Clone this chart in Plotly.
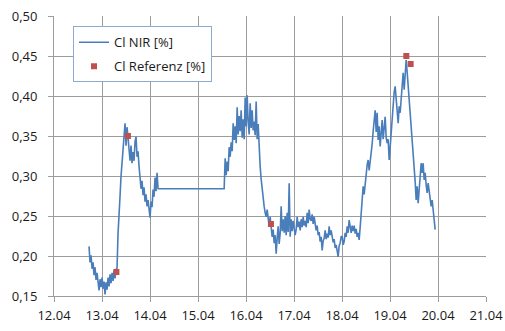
import plotly.graph_objects as go

# ---- data -------------------------------------------------------------
# NIR measurement, sampled every 30 min (1/48 day); x = day of April
SAMPLE_STEP = 1.0 / 48.0
NIR_A_START = 12.73
NIR_A_VALUES = [
    0.212, 0.192, 0.201, 0.184, 0.192, 0.176, 0.186, 0.170, 0.179, 0.163,
    0.157, 0.171, 0.161, 0.173, 0.159, 0.168, 0.152, 0.167, 0.158, 0.173,
    0.162, 0.177, 0.166, 0.179, 0.169, 0.182, 0.172, 0.183, 0.185, 0.228,
    0.262, 0.275, 0.300, 0.318, 0.330, 0.352, 0.366, 0.338, 0.361, 0.348,
    0.332, 0.319, 0.338, 0.316, 0.330, 0.319, 0.343, 0.349, 0.324, 0.331,
    0.312, 0.300, 0.284, 0.294, 0.276, 0.286, 0.268, 0.277, 0.262, 0.270,
    0.256, 0.248, 0.268, 0.261, 0.283, 0.274, 0.298, 0.281, 0.304, 0.284,
]
NIR_B_START = 15.545
NIR_B_VALUES = [
    0.284, 0.322, 0.301, 0.318, 0.306, 0.336, 0.324, 0.342, 0.331, 0.366,
    0.345, 0.362, 0.341, 0.386, 0.352, 0.375, 0.356, 0.382, 0.348, 0.371,
    0.346, 0.398, 0.362, 0.401, 0.368, 0.352, 0.391, 0.360, 0.382, 0.357,
    0.368, 0.351, 0.393, 0.346, 0.365, 0.328, 0.312, 0.296, 0.283, 0.272,
    0.262, 0.254, 0.249, 0.258, 0.244, 0.237, 0.249, 0.236, 0.224, 0.233,
    0.216, 0.226, 0.203, 0.222, 0.237, 0.215, 0.228, 0.262, 0.231, 0.246,
    0.229, 0.250, 0.226, 0.254, 0.230, 0.291, 0.224, 0.246, 0.231, 0.244,
    0.237, 0.226, 0.233, 0.249, 0.236, 0.243, 0.232, 0.246, 0.236, 0.249,
    0.238, 0.244, 0.236, 0.254, 0.241, 0.258, 0.246, 0.244, 0.252, 0.240,
    0.249, 0.236, 0.232, 0.238, 0.226, 0.230, 0.218, 0.224, 0.207, 0.219,
    0.222, 0.232, 0.221, 0.228, 0.223, 0.237, 0.226, 0.232, 0.222, 0.217,
    0.221, 0.210, 0.214, 0.205, 0.199, 0.213, 0.216, 0.224, 0.225, 0.214,
    0.218, 0.229, 0.224, 0.237, 0.229, 0.245, 0.236, 0.229, 0.238, 0.231,
    0.238, 0.228, 0.234, 0.224, 0.229, 0.220, 0.236, 0.252, 0.268, 0.287,
    0.277, 0.292, 0.304, 0.314, 0.320, 0.307, 0.318, 0.326, 0.340, 0.356,
    0.372, 0.382, 0.355, 0.379, 0.345, 0.362, 0.337, 0.350, 0.370, 0.346,
    0.360, 0.374, 0.348, 0.341, 0.346, 0.320, 0.336, 0.355, 0.374, 0.392,
    0.405, 0.412, 0.396, 0.379, 0.366, 0.387, 0.379, 0.396, 0.412, 0.429,
    0.408, 0.432, 0.445, 0.430, 0.414, 0.395, 0.378, 0.356, 0.338, 0.322,
    0.310, 0.293, 0.270, 0.287, 0.266, 0.283, 0.300, 0.316, 0.304, 0.316,
    0.295, 0.304, 0.289, 0.279, 0.291, 0.281, 0.268, 0.262, 0.270, 0.256,
    0.240, 0.233,
]

REF_DAYS = [13.30, 13.54, 16.52, 19.34, 19.43]
REF_VALUES = [0.18, 0.35, 0.24, 0.45, 0.44]

X_TICK_VALUES = [12, 13, 14, 15, 16, 17, 18, 19, 20, 21]
X_TICK_LABELS = ["12.04", "13.04", "14.04", "15.04", "16.04",
                 "17.04", "18.04", "19.04", "20.04", "21.04"]

# ---- build series ----------------------------------------------------
nir_days = [NIR_A_START + i * SAMPLE_STEP for i in range(len(NIR_A_VALUES))]
nir_days += [NIR_B_START + i * SAMPLE_STEP for i in range(len(NIR_B_VALUES))]
nir_vals = NIR_A_VALUES + NIR_B_VALUES

GRID = "#9c9c9c"
FONT = "Open Sans"

fig = go.Figure()
fig.add_trace(go.Scatter(
    x=nir_days, y=nir_vals, mode="lines", name="Cl NIR [%]",
    line=dict(color="#4a7ebb", width=1.6), legendgroup="a",
))
fig.add_trace(go.Scatter(
    x=REF_DAYS, y=REF_VALUES, mode="markers", name="Cl Referenz [%]",
    marker=dict(color="#c0504d", symbol="square", size=6), legendgroup="b",
))

fig.update_layout(
    width=505, height=331,
    margin=dict(l=54, r=19, t=16, b=35, autoexpand=False),
    paper_bgcolor="white", plot_bgcolor="white",
    separators=",.",
    font=dict(family=FONT, size=13, color="#1a1a1a"),
    showlegend=True,
    legend=dict(
        x=0.044, y=0.963, xanchor="left", yanchor="top",
        bgcolor="white", bordercolor="#8eaad0", borderwidth=1,
        font=dict(family=FONT, size=13, color="#1a1a1a"),
        itemwidth=30, traceorder="grouped", tracegroupgap=4,
    ),
    xaxis=dict(
        range=[12, 21], tickmode="array",
        tickvals=X_TICK_VALUES, ticktext=X_TICK_LABELS,
        showgrid=True, gridcolor=GRID, gridwidth=1,
        showline=True, linecolor=GRID, linewidth=1,
        ticks="outside", ticklen=5, tickcolor=GRID, automargin=False,
        zeroline=False, tickfont=dict(size=13), ticklabelstandoff=2,
    ),
    yaxis=dict(
        range=[0.15, 0.50], dtick=0.05, tick0=0.15, tickformat=".2f",
        showgrid=True, gridcolor=GRID, gridwidth=1,
        showline=True, linecolor=GRID, linewidth=1,
        ticks="outside", ticklen=5, tickcolor=GRID, automargin=False,
        zeroline=False, tickfont=dict(size=13), ticklabelstandoff=8,
    ),
)

fig.write_html(
    "out.html",
    config={"displayModeBar": False},
    post_script="document.body.style.margin='0';document.body.style.overflow='hidden';",
)
